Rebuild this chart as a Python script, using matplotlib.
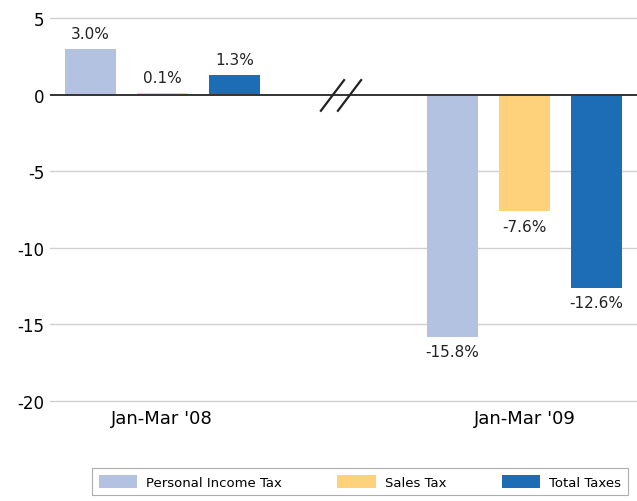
import matplotlib
matplotlib.use("Agg")
import matplotlib.pyplot as plt
from matplotlib.patches import Patch

periods = ["Jan-Mar '08", "Jan-Mar '09"]
series = ["Personal Income Tax", "Sales Tax", "Total Taxes"]
personal_income = [3.0, -15.8]
sales = [0.1, -7.6]
total = [1.3, -12.6]
values = [personal_income, sales, total]
colors = ["#b3c2e1", "#fdd27b", "#1c6db5"]
y_ticks = [5, 0, -5, -10, -15, -20]

fig = plt.figure(figsize=(6.37, 5.02), dpi=100)
ax = fig.add_axes([0.078, 0.199, 0.922, 0.763])

width = 0.141
offset = 0.199
for i, (name, vals, col) in enumerate(zip(series, values, colors)):
    xs = [g + (i - 1) * offset for g in range(len(periods))]
    ax.bar(xs, vals, width, color=col, zorder=3)
    for x, v in zip(xs, vals):
        if v >= 0:
            ax.text(x, v + 0.5, f"{v:.1f}%", ha="center", va="bottom",
                    fontsize=11, color="#222222", zorder=4)
        else:
            ax.text(x, v - 0.5, f"{v:.1f}%", ha="center", va="top",
                    fontsize=11, color="#222222", zorder=4)

ax.set_xlim(-0.311, 1.311)
ax.set_ylim(-20, 5)
ax.set_yticks(y_ticks)
ax.set_yticklabels([str(t) for t in y_ticks], fontsize=12)
ax.set_xticks(range(len(periods)))
ax.set_xticklabels(periods, fontsize=13)
ax.tick_params(length=0, pad=4)
ax.tick_params(axis="x", pad=6)

for t in y_ticks:
    if t != 0:
        ax.axhline(t, color="#d0d0d0", linewidth=1, zorder=1, clip_on=False)
ax.axhline(0, color="#333333", linewidth=1.4, zorder=5)

# axis break mark
for dx in (-0.02, 0.027):
    ax.plot([0.49 + dx - 0.032, 0.49 + dx + 0.032], [-1.05, 0.95],
            color="#222222", linewidth=1.6, zorder=6, clip_on=False)

for s in ax.spines.values():
    s.set_visible(False)

handles = [Patch(facecolor=c, edgecolor="none") for c in colors]
leg = fig.legend(handles, series, loc="center", bbox_to_anchor=(0.565, 0.038),
                 ncol=3, fontsize=9.5, frameon=True, fancybox=False,
                 handlelength=2.9, handleheight=1.1, handletextpad=0.7,
                 columnspacing=4.2, borderpad=0.5, borderaxespad=0)
leg.get_frame().set_edgecolor("#999999")
leg.get_frame().set_linewidth(0.8)

fig.savefig("out.png", dpi=100)
